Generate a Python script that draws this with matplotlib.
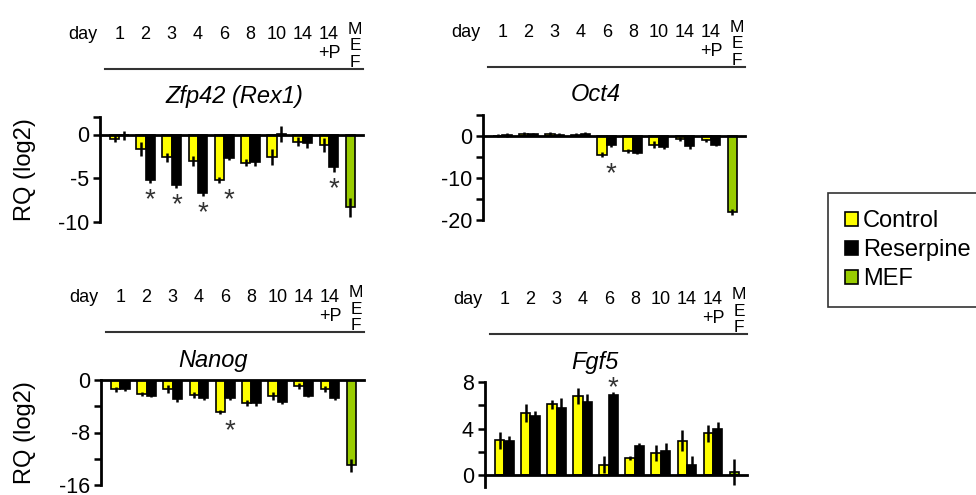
import matplotlib
matplotlib.use('Agg')
import matplotlib.pyplot as plt
import matplotlib.transforms as mtransforms
from matplotlib.patches import Patch

plt.rcParams['font.family'] = ['Liberation Sans', 'DejaVu Sans']

# ---------------- data ----------------
day_labels = ['1', '2', '3', '4', '6', '8', '10', '14', '14\n+P']
mef_label = 'M\nE\nF'
series_names = ['Control', 'Reserpine', 'MEF']

zfp42_ctrl = [-0.5, -1.7, -2.6, -3.0, -5.2, -3.2, -2.6, -0.8, -1.2]
zfp42_ctrl_err = [0.4, 0.8, 0.5, 0.6, 0.3, 0.4, 0.9, 0.5, 0.8]
zfp42_res = [-0.1, -5.2, -5.8, -6.7, -2.7, -3.1, 0.05, -1.0, -3.7]
zfp42_res_err = [0.5, 0.3, 0.3, 0.3, 0.2, 0.5, 0.9, 0.5, 0.6]
zfp42_mef = -8.3
zfp42_mef_err = 1.1
zfp42_sig = [0, 1, 1, 1, 1, 0, 0, 0, 1]

oct4_ctrl = [0.1, 0.5, 0.5, 0.3, -4.5, -3.6, -2.1, -0.7, -1.0]
oct4_ctrl_err = [0.4, 0.4, 0.4, 0.4, 0.6, 0.4, 0.8, 0.4, 0.4]
oct4_res = [0.2, 0.4, 0.3, 0.4, -2.1, -4.0, -2.6, -2.5, -2.1]
oct4_res_err = [0.5, 0.4, 0.4, 0.5, 0.5, 0.4, 0.6, 0.5, 0.3]
oct4_mef = -18.1
oct4_mef_err = 0.8
oct4_sig = [0, 0, 0, 0, 1, 0, 0, 0, 0]

nanog_ctrl = [-1.4, -2.2, -1.4, -2.3, -4.9, -3.5, -2.4, -0.9, -1.4]
nanog_ctrl_err = [0.4, 0.3, 0.6, 0.5, 0.3, 0.4, 0.6, 0.4, 0.5]
nanog_res = [-1.4, -2.4, -2.9, -2.8, -2.7, -3.5, -3.3, -2.4, -2.8]
nanog_res_err = [0.2, 0.2, 0.4, 0.3, 0.3, 0.4, 0.4, 0.2, 0.2]
nanog_mef = -13.0
nanog_mef_err = 1.0
nanog_sig = [0, 0, 0, 0, 1, 0, 0, 0, 0]

fgf5_ctrl = [3.0, 5.35, 6.1, 6.8, 0.92, 1.5, 1.9, 2.95, 3.6]
fgf5_ctrl_err = [0.7, 0.8, 0.4, 0.7, 0.7, 0.2, 0.7, 0.9, 0.7]
fgf5_res = [2.95, 5.1, 5.8, 6.25, 6.85, 2.5, 2.05, 0.92, 4.0]
fgf5_res_err = [0.4, 0.4, 0.8, 0.7, 0.3, 0.3, 0.7, 0.7, 0.6]
fgf5_mef = 0.3
fgf5_mef_err = 1.1
fgf5_sig = [0, 0, 0, 0, 1, 0, 0, 0, 0]

# ---------------- style ----------------
C_CTRL = '#FFFF00'
C_RES = '#000000'
C_MEF = '#99CC00'
BW = 0.36
W, H = 976, 495

panels = [
    dict(title='Zfp42 (Rex1)', ctrl=zfp42_ctrl, ce=zfp42_ctrl_err, res=zfp42_res, re=zfp42_res_err,
         mef=zfp42_mef, me=zfp42_mef_err, sig=zfp42_sig,
         ylim=(-10, 2), ticks=[-10, -5, 0, 2], labels=['-10', '-5', '0', ''],
         box=(100, 117, 263, 105), ylabel=True, tdx=3),
    dict(title='Oct4', ctrl=oct4_ctrl, ce=oct4_ctrl_err, res=oct4_res, re=oct4_res_err,
         mef=oct4_mef, me=oct4_mef_err, sig=oct4_sig,
         ylim=(-20, 5), ticks=[-20, -15, -10, -5, 0, 5], labels=['-20', '', '-10', '', '0', ''],
         box=(483, 115, 262, 105), ylabel=False, tdx=-18),
    dict(title='Nanog', ctrl=nanog_ctrl, ce=nanog_ctrl_err, res=nanog_res, re=nanog_res_err,
         mef=nanog_mef, me=nanog_mef_err, sig=nanog_sig,
         ylim=(-16, 0), ticks=[-16, -12, -8, -4, 0], labels=['-16', '', '-8', '', '0'],
         box=(101, 380, 263, 105), ylabel=True, tdx=-19),
    dict(title='Fgf5', ctrl=fgf5_ctrl, ce=fgf5_ctrl_err, res=fgf5_res, re=fgf5_res_err,
         mef=fgf5_mef, me=fgf5_mef_err, sig=fgf5_sig,
         ylim=(-1, 8), ticks=[0, 2, 4, 6, 8], labels=['0', '', '4', '', '8'],
         box=(485, 382, 262, 105), ylabel=False, tdx=-21),
]

fig = plt.figure(figsize=(W / 100, H / 100), dpi=100)

err_kw = dict(ecolor='black', elinewidth=1.8, capsize=0)

for p in panels:
    x0, y0, w, h = p['box']
    ax = fig.add_axes([x0 / W, 1 - (y0 + h) / H, w / W, h / H])
    n = len(p['ctrl'])
    xs = list(range(n))
    ax.bar([x - BW / 2 for x in xs], p['ctrl'], BW, yerr=p['ce'], color=C_CTRL,
           edgecolor='black', linewidth=1.2, error_kw=err_kw, zorder=2)
    ax.bar([x + BW / 2 for x in xs], p['res'], BW, yerr=p['re'], color=C_RES,
           edgecolor='black', linewidth=1.2, error_kw=err_kw, zorder=2)
    ax.bar([n - BW / 2], [p['mef']], BW, yerr=[p['me']], color=C_MEF,
           edgecolor='black', linewidth=1.2, error_kw=err_kw, zorder=2)

    # significance stars
    for i, s in enumerate(p['sig']):
        if not s:
            continue
        lo = min(p['ctrl'][i] - p['ce'][i], p['res'][i] - p['re'][i])
        hi = max(p['ctrl'][i] + p['ce'][i], p['res'][i] + p['re'][i])
        if lo < 0:
            ax.annotate('*', (i + BW / 2, lo), xytext=(0, -3), textcoords='offset points',
                        ha='center', va='top', fontsize=20, color='#333333')
        else:
            ax.annotate('*', (i + BW / 2, hi), xytext=(0, -7), textcoords='offset points',
                        ha='center', va='bottom', fontsize=20, color='#333333')

    ax.set_xlim(-0.74, n + 0.3)
    ax.set_ylim(*p['ylim'])
    ax.set_yticks(p['ticks'])
    ax.set_yticklabels(p['labels'], fontsize=15.5)
    ax.tick_params(axis='y', direction='out', length=5, width=1.8, pad=3)
    ax.set_xticks([])
    for sp in ['top', 'right']:
        ax.spines[sp].set_visible(False)
    ax.spines['bottom'].set_position(('data', 0))
    ax.spines['bottom'].set_linewidth(2)
    ax.spines['left'].set_linewidth(2)
    ax.spines['bottom'].set_zorder(3)
    ax.patch.set_visible(False)

    def ay(px):
        return 1 + px / h

    ax.text(0.5 + p['tdx'] / w, ay(20), p['title'], transform=ax.transAxes, ha='center',
            va='center', fontsize=17, style='italic')
    ax.plot([0.02, 1.0], [ay(48), ay(48)], transform=ax.transAxes, color='#333333',
            lw=1.5, clip_on=False)
    trans = mtransforms.blended_transform_factory(ax.transData, ax.transAxes)
    ax.text(-1.4, ay(91), 'day', transform=trans, ha='center', va='top', fontsize=13)
    for i, lab in enumerate(day_labels):
        ax.text(i, ay(91), lab, transform=trans, ha='center', va='top', fontsize=13,
                linespacing=1.15)
    ax.text(n, ay(71), mef_label, transform=trans, ha='center', va='center', fontsize=12.5,
            linespacing=1.12)

    if p['ylabel']:
        fig.text(25 / W, 1 - (y0 + h / 2) / H, 'RQ (log2)', rotation=90, ha='center',
                 va='center', fontsize=17)

handles = [Patch(facecolor=c, edgecolor='black', linewidth=1.2) for c in (C_CTRL, C_RES, C_MEF)]
leg = fig.legend(handles, series_names, loc='upper left', bbox_to_anchor=(828 / W, 1 - 193 / H),
                 borderaxespad=0, fontsize=17, handlelength=0.55, handleheight=0.55,
                 handletextpad=0.2, labelspacing=0.3, borderpad=0.72, fancybox=False,
                 framealpha=1, edgecolor='#333333')
leg.get_frame().set_linewidth(1.2)

fig.savefig('out.png', dpi=100)
